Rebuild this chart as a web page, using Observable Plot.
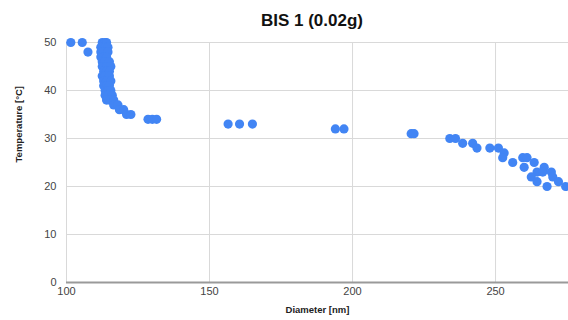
<!DOCTYPE html>
<html>
<head>
<meta charset="utf-8">
<script src="https://cdn.jsdelivr.net/npm/d3@7"></script>
<script src="https://cdn.jsdelivr.net/npm/@observablehq/plot@0.6"></script>
<style>
  html, body { margin: 0; padding: 0; background: #fff; overflow: hidden; }
  #title { height: 35px; line-height: 42px; margin-left: 56px; width: 512px; text-align: center;
           font-family: "Liberation Sans", Arial, sans-serif; font-weight: bold; font-size: 17px; color: #111; }
  #chart svg { display: block; }
</style>
</head>
<body>
<div id="title">BIS 1 (0.02g)</div>
<div id="chart"></div>
<script>
const diameter = [
  101.5, 105.5,
  112.5, 113.5, 114,
  112, 113.5, 114.5,
  107.5, 112, 113, 114.5,
  112, 113, 114,
  112.5, 113.5, 115,
  112.5, 114, 115.5,
  113, 114, 115,
  112.5, 113.5, 115,
  113, 114, 115.5,
  113, 114, 115,
  113.5, 114.5, 115.5,
  113.5, 114.5, 116,
  114, 115, 116.5,
  116.5, 118,
  118.5, 120,
  121, 122.5,
  128.5, 130, 131.5,
  156.5, 160.5, 165,
  194, 197,
  220.5, 221.5,
  234, 236,
  238.5, 242,
  243.5, 248, 251,
  253,
  252.5, 259.5, 261,
  256, 263.5,
  260, 267,
  264.5, 266.5, 269.5,
  262.5, 270,
  264.5, 272,
  268, 274.5
];
const temperature = [
  50, 50,
  50, 50, 50,
  49, 49, 49,
  48, 48, 48, 48,
  47, 47, 47,
  46, 46, 46,
  45, 45, 45,
  44, 44, 44,
  43, 43, 43,
  42, 42, 42,
  41, 41, 41,
  40, 40, 40,
  39, 39, 39,
  38, 38, 38,
  37, 37,
  36, 36,
  35, 35,
  34, 34, 34,
  33, 33, 33,
  32, 32,
  31, 31,
  30, 30,
  29, 29,
  28, 28, 28,
  27,
  26, 26, 26,
  25, 25,
  24, 24,
  23, 23, 23,
  22, 22,
  21, 21,
  20, 20
];
const xTicks = [100, 150, 200, 250];
const yTicks = [0, 10, 20, 30, 40, 50];
const xLabel = "Diameter [nm]";
const yLabel = "Temperature [°C]";

const data = diameter.map((d, i) => ({diameter: d, temperature: temperature[i]}));

const chart = Plot.plot({
  width: 568,
  height: 285,
  marginLeft: 66,
  marginRight: 0,
  marginTop: 7,
  marginBottom: 38,
  style: {fontFamily: "'Liberation Sans', Arial, sans-serif", fontSize: "11px", color: "#444", background: "#fff"},
  x: {domain: [100, 275.5]},
  y: {domain: [0, 50]},
  marks: [
    Plot.gridX(xTicks, {stroke: "#d9d9d9", strokeOpacity: 1, strokeWidth: 1}),
    Plot.gridY(yTicks, {stroke: "#d9d9d9", strokeOpacity: 1, strokeWidth: 1}),
    Plot.ruleY([0], {stroke: "#9a9a9a", strokeWidth: 1.8}),
    Plot.dot(data, {x: "diameter", y: "temperature", r: 4.6, fill: "#4285f4", stroke: "none"}),
    Plot.axisX({ticks: xTicks, tickSize: 0, tickPadding: 5, label: null, fill: "#444"}),
    Plot.axisY({ticks: yTicks, tickSize: 0, tickPadding: 10, label: null, fill: "#444"}),
    Plot.text([xLabel], {frameAnchor: "bottom", dy: 30, text: d => d, fontWeight: "bold", fontSize: 9.5, fill: "#222"}),
    Plot.text([yLabel], {frameAnchor: "left", dx: -48, rotate: -90, text: d => d, fontWeight: "bold", fontSize: 9.5, fill: "#222"})
  ]
});
document.getElementById("chart").appendChild(chart);
</script>
</body>
</html>
